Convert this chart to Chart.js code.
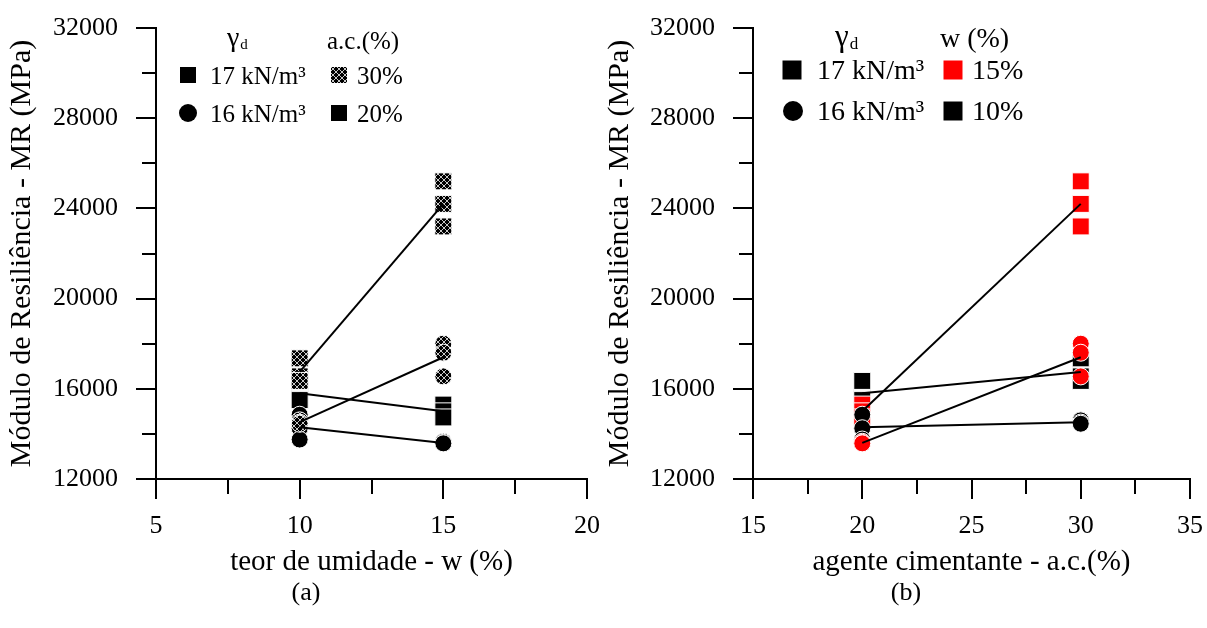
<!DOCTYPE html>
<html lang="pt">
<head>
<meta charset="UTF-8">
<title>Módulo de Resiliência</title>
<script src="https://cdn.jsdelivr.net/npm/chart.js"></script>
<style>
  body { margin: 0; background: #fff; font-family: "Liberation Serif", serif; }
  #quadro { position: relative; width: 1207px; height: 628px; overflow: hidden; }
  canvas { position: absolute; top: 0; }
  #graficoA { left: 0; }
  #graficoB { left: 600px; }
  .rotulo { position: absolute; top: 577px; font-size: 26px; transform: translateX(-50%); }
</style>
</head>
<body>
<div id="quadro">
  <canvas id="graficoA" width="600" height="580"></canvas>
  <canvas id="graficoB" width="607" height="580"></canvas>
  <div class="rotulo" style="left:306px">(a)</div>
  <div class="rotulo" style="left:906px">(b)</div>
</div>

<script>
// MR (MPa) de cada corpo de prova, três por condição
const mr17_ac30_w10 = [17350, 16550, 16350];
const mr17_ac30_w15 = [25200, 24200, 23200];
const mr17_ac20_w10 = [16350, 15550, 15500];
const mr17_ac20_w15 = [15300, 15000, 14730];
const mr16_ac30_w10 = [14600, 14500, 14450];
const mr16_ac30_w15 = [18000, 17600, 16550];
const mr16_ac20_w10 = [14850, 14250, 13750];
const mr16_ac20_w15 = [13650, 13600, 13580];

// médias (w = 10 %, w = 15 %) ligadas pelas retas
const media17_ac30 = [16750, 24200];
const media17_ac20 = [15800, 15000];
const media16_ac30 = [14520, 17400];
const media16_ac20 = [14300, 13600];

const teorUmidade = [10, 15];
const agenteCimentante = [20, 30];

// eixos
const ticksMR = [12000, 16000, 20000, 24000, 28000, 32000];
const menoresMR = [14000, 18000, 22000, 26000, 30000];
const ticksW = [5, 10, 15, 20];
const menoresW = [7.5, 12.5, 17.5];
const ticksAC = [15, 20, 25, 30, 35];
const menoresAC = [17.5, 22.5, 27.5, 32.5];

const FONTE = '"Liberation Serif", "Times New Roman", serif';

function pontos(xs, grupos) {
  const lista = [];
  xs.forEach((x, i) => grupos[i].forEach(y => lista.push({ x, y })));
  return lista;
}

function reta(xs, ys) {
  return { data: xs.map((x, i) => ({ x, y: ys[i] })), showLine: true,
           borderColor: '#000', borderWidth: 2, pointRadius: 0, pointHoverRadius: 0 };
}

function marcador(data, estilo, cor) {
  const r = estilo === 'rect' ? 12 : 8.5;
  return { data, showLine: false, pointStyle: estilo, pointRadius: r, pointHoverRadius: r,
           backgroundColor: cor, borderColor: '#fff', borderWidth: 1 };
}

// textura quadriculada dos pontos com 30 % de agente cimentante
function xadrez(ctx) {
  const c = document.createElement('canvas');
  c.width = 6; c.height = 6;
  const g = c.getContext('2d');
  g.fillStyle = '#000';
  g.fillRect(0, 0, 6, 6);
  g.strokeStyle = '#c8c8c8';
  g.lineWidth = 1;
  g.beginPath();
  g.moveTo(0, 0); g.lineTo(6, 6);
  g.moveTo(6, 0); g.lineTo(0, 6);
  g.stroke();
  return ctx.createPattern(c, 'repeat');
}

function desenharLegenda(ctx, leg) {
  ctx.save();
  ctx.fillStyle = '#000';
  ctx.textBaseline = 'middle';
  ctx.textAlign = 'left';
  ctx.font = Math.round(leg.fonte * 1.1) + 'px ' + FONTE;
  ctx.fillText('γ', leg.gama[0], leg.gama[1]);
  const wg = ctx.measureText('γ').width;
  ctx.font = Math.round(leg.fonte * 0.6) + 'px ' + FONTE;
  ctx.fillText('d', leg.gama[0] + wg + 1, leg.gama[1] + leg.fonte * 0.25);
  ctx.font = leg.fonte + 'px ' + FONTE;
  ctx.fillText(leg.cabecalho[0], leg.cabecalho[1], leg.cabecalho[2]);
  leg.itens.forEach(it => {
    ctx.fillStyle = it.cor;
    ctx.beginPath();
    if (it.forma === 'circle') {
      ctx.arc(it.x, it.y, it.lado / 2, 0, Math.PI * 2);
    } else {
      ctx.rect(it.x - it.lado / 2, it.y - it.lado / 2, it.lado, it.lado);
    }
    ctx.fill();
    ctx.fillStyle = '#000';
    ctx.fillText(it.texto, it.xt, it.y + 2);
  });
  ctx.restore();
}

function criarGrafico(id, cfg) {
  const ctx = document.getElementById(id).getContext('2d');
  const padrao = cfg.padrao(ctx);
  const datasets = cfg.series(padrao);
  const legenda = cfg.legenda(padrao);

  const extras = {
    id: 'extras',
    afterDraw(chart) {
      const { ctx: c, scales: { x, y } } = chart;
      c.save();
      c.strokeStyle = '#000';
      c.lineWidth = 2;
      cfg.menoresX.forEach(v => {
        const px = Math.round(x.getPixelForValue(v));
        c.beginPath(); c.moveTo(px, y.bottom); c.lineTo(px, y.bottom + 15); c.stroke();
      });
      menoresMR.forEach(v => {
        const py = Math.round(y.getPixelForValue(v));
        c.beginPath(); c.moveTo(x.left, py); c.lineTo(x.left - 14, py); c.stroke();
      });
      c.restore();
      desenharLegenda(c, legenda);
    }
  };

  const eixoComum = {
    border: { display: true, color: '#000', width: 2 },
    grid: { drawOnChartArea: false, drawTicks: true, tickLength: 20, lineWidth: 2, color: '#000' },
  };

  return new Chart(ctx, {
    type: 'scatter',
    data: { datasets },
    options: {
      responsive: false,
      animation: false,
      layout: { padding: { top: 28, right: cfg.direita, bottom: 0, left: 0 } },
      plugins: { legend: { display: false }, tooltip: { enabled: false } },
      scales: {
        x: {
          ...eixoComum,
          type: 'linear',
          min: cfg.ticksX[0],
          max: cfg.ticksX[cfg.ticksX.length - 1],
          ticks: { stepSize: cfg.ticksX[1] - cfg.ticksX[0], padding: 12, color: '#000',
                   font: { family: FONTE, size: 26 }, callback: v => String(v) },
          title: { display: true, text: cfg.tituloX, color: '#000',
                   font: { family: FONTE, size: 29 }, padding: { top: 0, bottom: 0 } },
          afterFit(s) {
            s.height = 101;
            s.paddingLeft = 0;
            s.paddingRight = 0;
          }
        },
        y: {
          ...eixoComum,
          type: 'linear',
          min: ticksMR[0],
          max: ticksMR[ticksMR.length - 1],
          ticks: { stepSize: ticksMR[1] - ticksMR[0], padding: 18, color: '#000',
                   font: { family: FONTE, size: 26 }, callback: v => String(v) },
          title: { display: true, text: 'Módulo de Resiliência - MR (MPa)', color: '#000',
                   font: { family: FONTE, size: 30 }, padding: { top: cfg.tituloYpad, bottom: 0 } },
          afterFit(s) {
            s.width = cfg.larguraY;
            s.paddingTop = 0;
            s.paddingBottom = 0;
          }
        }
      }
    },
    plugins: [extras]
  });
}

// (a) MR em função do teor de umidade
criarGrafico('graficoA', {
  padrao: xadrez,
  ticksX: ticksW,
  menoresX: menoresW,
  tituloX: 'teor de umidade - w (%)',
  larguraY: 156,
  tituloYpad: 4,
  direita: 12,
  series: p => [
    reta(teorUmidade, media17_ac30),
    reta(teorUmidade, media17_ac20),
    reta(teorUmidade, media16_ac30),
    reta(teorUmidade, media16_ac20),
    marcador(pontos(teorUmidade, [mr16_ac30_w10, mr16_ac30_w15]), 'circle', p),
    marcador(pontos(teorUmidade, [mr16_ac20_w10, mr16_ac20_w15]), 'circle', '#000'),
    marcador(pontos(teorUmidade, [mr17_ac30_w10, mr17_ac30_w15]), 'rect', p),
    marcador(pontos(teorUmidade, [mr17_ac20_w10, mr17_ac20_w15]), 'rect', '#000')
  ],
  legenda: p => ({
    fonte: 25,
    gama: [227, 39],
    cabecalho: ['a.c.(%)', 327, 42],
    itens: [
      { forma: 'rect', cor: '#000', x: 188, y: 75, lado: 16, texto: '17 kN/m³', xt: 210 },
      { forma: 'rect', cor: p, x: 339, y: 75, lado: 16, texto: '30%', xt: 357 },
      { forma: 'circle', cor: '#000', x: 188, y: 113, lado: 18, texto: '16 kN/m³', xt: 210 },
      { forma: 'rect', cor: '#000', x: 339, y: 113, lado: 16, texto: '20%', xt: 357 }
    ]
  })
});

// (b) MR em função do teor de agente cimentante
criarGrafico('graficoB', {
  padrao: xadrez,
  ticksX: ticksAC,
  menoresX: menoresAC,
  tituloX: 'agente cimentante - a.c.(%)',
  larguraY: 153,
  tituloYpad: 2,
  direita: 17,
  series: () => [
    reta(agenteCimentante, [media17_ac20[1], media17_ac30[1]]),
    reta(agenteCimentante, [media17_ac20[0], media17_ac30[0]]),
    reta(agenteCimentante, [media16_ac20[1], media16_ac30[1]]),
    reta(agenteCimentante, [media16_ac20[0], media16_ac30[0]]),
    marcador(pontos(agenteCimentante, [mr16_ac20_w15, mr16_ac30_w15]), 'circle', '#ff0000'),
    marcador(pontos(agenteCimentante, [mr16_ac20_w10, mr16_ac30_w10]), 'circle', '#000'),
    marcador(pontos(agenteCimentante, [mr17_ac20_w15, mr17_ac30_w15]), 'rect', '#ff0000'),
    marcador(pontos(agenteCimentante, [mr17_ac20_w10, mr17_ac30_w10]), 'rect', '#000')
  ],
  legenda: () => ({
    fonte: 28,
    gama: [235, 38],
    cabecalho: ['w (%)', 340, 40],
    itens: [
      { forma: 'rect', cor: '#000', x: 192, y: 70, lado: 19, texto: '17 kN/m³', xt: 217 },
      { forma: 'rect', cor: '#ff0000', x: 353, y: 70, lado: 19, texto: '15%', xt: 372 },
      { forma: 'circle', cor: '#000', x: 193, y: 111, lado: 20, texto: '16 kN/m³', xt: 217 },
      { forma: 'rect', cor: '#000', x: 353, y: 111, lado: 19, texto: '10%', xt: 372 }
    ]
  })
});
</script>
</body>
</html>
